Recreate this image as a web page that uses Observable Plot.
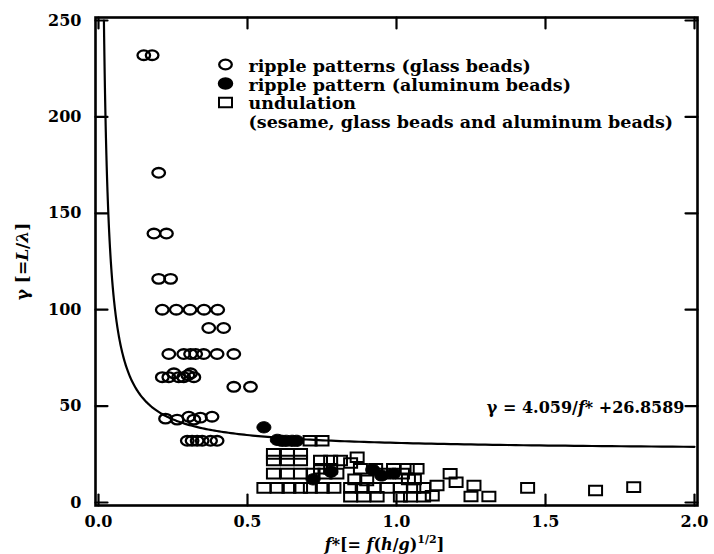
<!DOCTYPE html>
<html><head><meta charset="utf-8">
<script src="https://cdn.jsdelivr.net/npm/d3@7"></script>
<script src="https://cdn.jsdelivr.net/npm/@observablehq/plot@0.6"></script>
<style>body{margin:0;background:#fff}</style>
</head><body><div id="chart"></div>
<script>
// ripple patterns (glass beads): [f*, gamma]
const glassRipple = [
  [0.152,232],[0.180,232],
  [0.202,171],
  [0.186,139.5],[0.228,139.5],
  [0.202,116],[0.242,116],
  [0.214,100],[0.261,100],[0.307,100],[0.354,100],[0.400,100],
  [0.370,90.5],[0.420,90.5],
  [0.236,77],[0.286,77],[0.309,77],[0.326,77],[0.353,77],[0.398,77],[0.454,77],
  [0.253,67],[0.309,67],
  [0.214,65],[0.236,65],[0.269,65],[0.286,65],[0.320,65],[0.300,66],
  [0.454,60],[0.510,60],
  [0.225,43.5],[0.264,43],[0.303,44.5],[0.320,43],[0.342,44],[0.381,44.5],
  [0.298,32],[0.314,32],[0.331,32],[0.348,32],[0.376,32],[0.398,32]
];
// ripple pattern (aluminum beads)
const aluminumRipple = [
  [0.555,39],[0.600,32.5],[0.615,32],[0.630,32],[0.650,32],[0.665,32],
  [0.920,17],[0.950,14],[0.990,15],[0.780,16],[0.720,12]
];
// undulation (sesame, glass beads and aluminum beads)
const undulation = [
  [0.71,32],[0.75,32],
  [0.587,25.2],[0.634,25.2],[0.678,25.2],[0.868,23.5],
  [0.587,21.8],[0.634,21.8],[0.678,21.8],[0.745,21.8],[0.779,21.8],[0.812,21.8],[0.846,20.5],
  [0.745,17.5],[0.779,17.5],[0.879,17.5],[0.930,17.5],[0.990,17.5],[1.036,17.5],[1.069,17.5],
  [0.587,15],[0.634,15],[0.678,15],[0.720,15],[0.760,15],[0.800,15],[0.957,15],[1.020,15],[1.180,14.9],
  [1.200,10.5],[1.040,12],[1.060,12],[0.860,12],[0.900,11.5],
  [0.555,7.6],[0.600,7.6],[0.639,7.6],[0.678,7.6],[0.711,7.6],[0.751,7.6],[0.790,7.6],
  [0.846,7.6],[0.885,7.6],[0.924,7.6],[0.969,7.6],[1.013,7.6],[1.058,7.6],[1.091,7.6],
  [1.136,8.8],[1.260,8.8],[1.440,7.6],[1.668,6.2],[1.796,8],
  [0.846,3],[0.890,3],[0.935,3],[1.013,3],[1.047,3],[1.091,3],[1.120,3.5],[1.250,3.1],[1.310,3.1]
];
// fitted curve  gamma = A / f* + B
const fitA = 4.059, fitB = 26.8589;
const xTicks = [0, 0.5, 1.0, 1.5, 2.0];
const yTicks = [0, 50, 100, 150, 200, 250];
const legendLines = [
  "ripple patterns (glass beads)",
  "ripple pattern (aluminum beads)",
  "undulation",
  "(sesame, glass beads and aluminum beads)"
];
const equationText = "γ = 4.059/f* +26.8589";
const xLabelText = "f*[= f(h/g)1/2]";
const yLabelText = "γ [=L/λ]";

const fStart = fitA / (250 - fitB);
const curve = d3.range(0, 1.0001, 0.004).map(t => {
  const f = fStart * Math.pow(2 / fStart, t);
  return {f, g: fitA / f + fitB};
});

function ellipseSym(rx, ry) {
  const k = 0.5523;
  return {draw(ctx) {
    ctx.moveTo(rx, 0);
    ctx.bezierCurveTo(rx, ry*k, rx*k, ry, 0, ry);
    ctx.bezierCurveTo(-rx*k, ry, -rx, ry*k, -rx, 0);
    ctx.bezierCurveTo(-rx, -ry*k, -rx*k, -ry, 0, -ry);
    ctx.bezierCurveTo(rx*k, -ry, rx, -ry*k, rx, 0);
    ctx.closePath();
  }};
}
const openCircle = ellipseSym(6.3, 4.8);
const filledCircle = ellipseSym(7, 5.6);
const squareSym = {draw(ctx) { ctx.rect(-6.5, -4.8, 13, 9.6); }};
const tickShape = {draw(ctx, l) { ctx.moveTo(0, 0); ctx.lineTo(0, -l); }};

const F = "DejaVu Serif";
const chart = Plot.plot({
  width: 714, height: 554,
  marginLeft: 98, marginRight: 20, marginTop: 20, marginBottom: 52,
  x: {domain: [0, 2]},
  y: {domain: [0, 250]},
  style: {fontFamily: F, fontWeight: "bold", fontSize: "16px", color: "#000", background: "#fff"},
  marks: [
    Plot.frame({inset: -3, strokeWidth: 2.6, stroke: "#000"}),
    // inward ticks
    Plot.vector(yTicks, {y: d => d, frameAnchor: "left", dx: -3, length: 12, rotate: 90, anchor: "start", shape: tickShape, strokeWidth: 2.2}),
    Plot.vector(yTicks, {y: d => d, frameAnchor: "right", dx: 3, length: 12, rotate: -90, anchor: "start", shape: tickShape, strokeWidth: 2.2}),
    Plot.vector(xTicks, {x: d => d, frameAnchor: "bottom", dy: 3, length: 11, rotate: 0, anchor: "start", shape: tickShape, strokeWidth: 2.2}),
    Plot.vector(xTicks, {x: d => d, frameAnchor: "top", dy: -3, length: 11, rotate: 180, anchor: "start", shape: tickShape, strokeWidth: 2.2}),
    Plot.axisX(xTicks, {tickFormat: d3.format(".1f"), tickSize: 0, tickPadding: 13, fontSize: 16, label: null}),
    Plot.axisY(yTicks, {tickSize: 0, tickPadding: 17, fontSize: 16, label: null}),
    // fit curve
    Plot.line(curve, {x: "f", y: "g", stroke: "#000", strokeWidth: 2.2}),
    // data
    Plot.dot(undulation, {x: d => d[0], y: d => d[1], symbol: squareSym, fill: "none", stroke: "#000", strokeWidth: 2}),
    Plot.dot(glassRipple, {x: d => d[0], y: d => d[1], symbol: openCircle, fill: "none", stroke: "#000", strokeWidth: 2.3}),
    Plot.dot(aluminumRipple, {x: d => d[0], y: d => d[1], symbol: filledCircle, fill: "#000", stroke: "#000", strokeWidth: 1}),
    // legend
    Plot.dot([legendLines[0]], {frameAnchor: "top-left", dx: 127, dy: 44, symbol: openCircle, fill: "none", stroke: "#000", strokeWidth: 2.3}),
    Plot.dot([legendLines[1]], {frameAnchor: "top-left", dx: 127, dy: 63, symbol: filledCircle, fill: "#000", stroke: "#000"}),
    Plot.dot([legendLines[2]], {frameAnchor: "top-left", dx: 127, dy: 82, symbol: squareSym, fill: "none", stroke: "#000", strokeWidth: 2}),
    Plot.text([legendLines.join("\n")], {frameAnchor: "top-left", dx: 150, dy: 38.5, text: d => d, textAnchor: "start", lineAnchor: "top", lineHeight: 18.5/17.5, fontSize: 17.5, fill: "#000"}),
    // equation
    Plot.text([equationText], {frameAnchor: "right", dx: -10, dy: 146, text: d => d, textAnchor: "end", lineAnchor: "middle", fontSize: 16, fill: "#000"}),
    // axis labels
    Plot.text([xLabelText], {frameAnchor: "bottom", dx: -12, dy: 42, text: d => d, textAnchor: "middle", lineAnchor: "middle", fontSize: 16, fill: "#000"}),
    Plot.text([yLabelText], {frameAnchor: "left", dx: -76, dy: 0, text: d => d, textAnchor: "middle", lineAnchor: "middle", rotate: -90, fontSize: 17, fill: "#000"})
  ]
});
document.getElementById("chart").appendChild(chart);

function rich(content, parts) {
  d3.select(chart).selectAll("text").filter(function() { return this.textContent === content; }).each(function() {
    const t = d3.select(this);
    t.text(null);
    parts.forEach(([s, kind]) => {
      const ts = t.append("tspan").text(s);
      if (kind === "i") ts.attr("font-style", "italic");
      if (kind === "sup") ts.attr("font-size", "11px").attr("dy", "-7");
      if (kind === "after") ts.attr("dy", "7");
    });
  });
}
rich(equationText, [["γ = 4.059/", ""], ["f", "i"], ["*", ""], [" +26.8589", ""]]);
rich(xLabelText, [["f", "i"], ["*[= ", ""], ["f", "i"], ["(", ""], ["h", "i"], ["/", ""], ["g", "i"], [")", ""], ["1/2", "sup"], ["]", "after"]]);
rich(yLabelText, [["γ [=", ""], ["L", "i"], ["/", ""], ["λ", "i"], ["]", ""]]);
</script>
</body></html>
